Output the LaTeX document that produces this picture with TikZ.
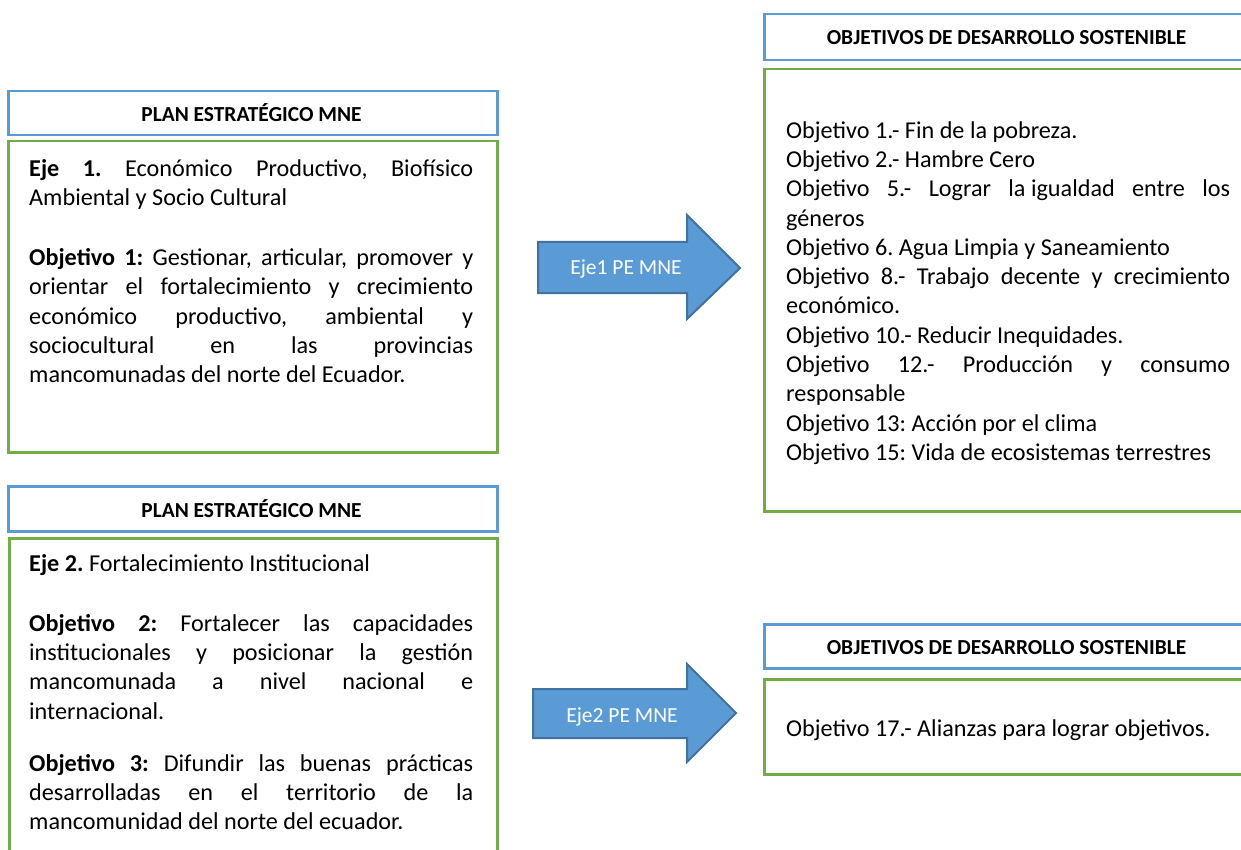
\documentclass[tikz,border=0pt]{standalone}
\usepackage{fontspec}
\setmainfont{Carlito}
\definecolor{hblue}{HTML}{5B9BD5}
\definecolor{bgreen}{HTML}{70AD47}
\definecolor{adark}{HTML}{41719C}
\newcommand{\jl}[1]{\makebox[444pt][s]{#1}}
\newcommand{\sps}{\frenchspacing\spaceskip=5.47pt plus 10em minus 0.5pt\xspaceskip=\spaceskip}
\newcommand{\bodyfont}{\fontsize{24.2}{29.3}\selectfont}
\tikzset{
  hdrbox/.style={draw=hblue, line width=2.5pt, rectangle, inner sep=0pt, anchor=north west},
  bodybox/.style={draw=bgreen, line width=2.5pt, rectangle, inner sep=0pt, anchor=north west},
  hdrtext/.style={font=\fontsize{21.4}{26}\selectfont\bfseries, inner sep=0pt, anchor=base},
  bodytext/.style={font=\bodyfont, inner sep=0pt, text width=444pt, anchor=north west},
  blockarrow/.style={fill=hblue, draw=adark, line width=2pt, line join=miter},
  arrowtext/.style={font=\fontsize{21.5}{26}\selectfont, text=white, inner sep=0pt, anchor=base}
}
\begin{document}
\begin{tikzpicture}[x=1pt,y=-1pt]
\clip (0,0) rectangle (1241,850);
\fill[white] (0,0) rectangle (1241,850);

% left top
\node[hdrbox, minimum width=489pt, minimum height=44pt] (h1) at (7,90) {};
\node[hdrtext] (h1t) at (251.5,121.7) {PLAN ESTRATÉGICO MNE};
\node[bodybox, minimum width=489pt, minimum height=311pt] (b1) at (7,140) {};
\node[bodytext] (b1t) at (29,156) {\sps\noindent\rule{0pt}{20pt}\jl{\textbf{Eje 1.} Económico Productivo, Biofísico}\\
Ambiental y Socio Cultural\\[30.7pt]
\jl{\textbf{Objetivo 1:} Gestionar, articular, promover y}\\
\jl{orientar el fortalecimiento y crecimiento}\\
\jl{económico productivo, ambiental y}\\
\jl{sociocultural en las provincias}\\
mancomunadas del norte del Ecuador.};

% left bottom
\node[hdrbox, minimum width=489pt, minimum height=45pt] (h2) at (7,485) {};
\node[hdrtext] (h2t) at (251.5,517.5) {PLAN ESTRATÉGICO MNE};
\node[bodybox, minimum width=488pt, minimum height=330pt] (b2) at (8,537) {};
\node[bodytext] (b2t) at (29,551) {\sps\noindent\rule{0pt}{20pt}\textbf{Eje 2.} Fortalecimiento Institucional\\[30.7pt]
\jl{\textbf{Objetivo 2:} Fortalecer las capacidades}\\
\jl{institucionales y posicionar la gestión}\\
\jl{mancomunada a nivel nacional e}\\
internacional.\\[22.7pt]
\jl{\textbf{Objetivo 3:} Difundir las buenas prácticas}\\
\jl{desarrolladas en el territorio de la}\\
mancomunidad del norte del ecuador.};

% right top
\node[hdrbox, minimum width=487pt, minimum height=46pt] (h3) at (763,13) {};
\node[hdrtext] (h3t) at (1006.5,45) {OBJETIVOS DE DESARROLLO SOSTENIBLE};
\node[bodybox, minimum width=500pt, minimum height=442pt] (b3) at (763,68) {};
\node[bodytext] (b3t) at (786,118) {\sps\noindent\rule{0pt}{20pt}Objetivo 1.- Fin de la pobreza.\\
Objetivo 2.- Hambre Cero\\
\jl{Objetivo 5.- Lograr \mbox{la igualdad} entre los}\\
géneros\\
Objetivo 6. Agua Limpia y Saneamiento\\
\jl{Objetivo 8.- Trabajo decente y crecimiento}\\
económico.\\
Objetivo 10.- Reducir Inequidades.\\
\jl{Objetivo 12.- Producción y consumo}\\
responsable\\
Objetivo 13: Acción por el clima\\
Objetivo 15: Vida de ecosistemas terrestres};

% right bottom
\node[hdrbox, minimum width=487pt, minimum height=44pt] (h4) at (763,623) {};
\node[hdrtext] (h4t) at (1006.5,654) {OBJETIVOS DE DESARROLLO SOSTENIBLE};
\node[bodybox, minimum width=500pt, minimum height=95pt] (b4) at (763,678) {};
\node[bodytext] (b4t) at (786,716) {\sps\noindent\rule{0pt}{20pt}Objetivo 17.- Alianzas para lograr objetivos.};

% arrows
\draw[blockarrow] (538,242) -- (687,242) -- (687,215) -- (740,268) -- (687,319) -- (687,293) -- (538,293) -- cycle;
\node[arrowtext] (a1) at (626,274) {Eje1 PE MNE};
\draw[blockarrow] (533,689) -- (687,689) -- (687,664) -- (736,713) -- (687,762) -- (687,738) -- (533,738) -- cycle;
\node[arrowtext] (a2) at (622,722) {Eje2 PE MNE};
\end{tikzpicture}
\end{document}
